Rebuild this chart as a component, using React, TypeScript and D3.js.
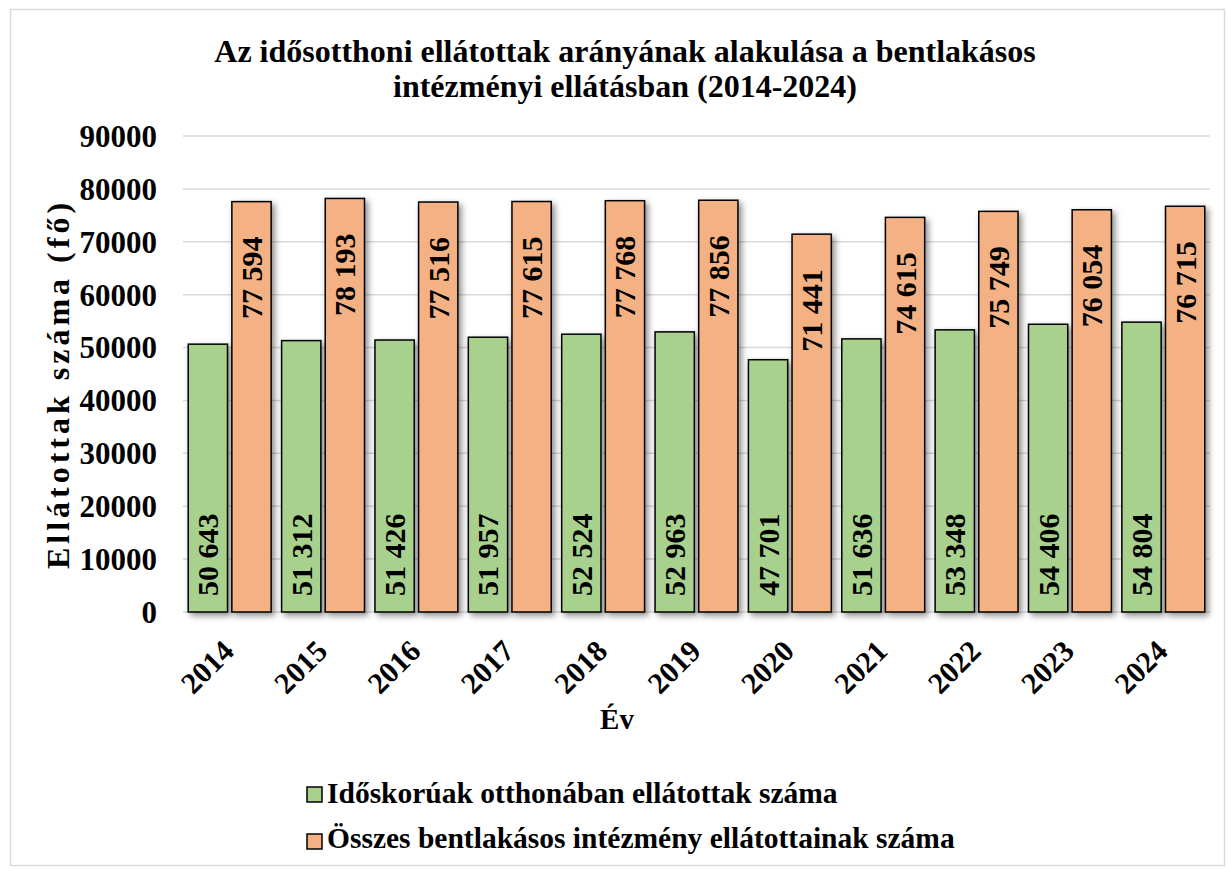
import React from "react";
import * as d3 from "d3";

const years = ["2014","2015","2016","2017","2018","2019","2020","2021","2022","2023","2024"];
const elderlyHome = [50643,51312,51426,51957,52524,52963,47701,51636,53348,54406,54804];
const allResidential = [77594,78193,77516,77615,77768,77856,71441,74615,75749,76054,76715];
const yTicks = [0,10000,20000,30000,40000,50000,60000,70000,80000,90000];
const seriesNames = ["Időskorúak otthonában ellátottak száma","Összes bentlakásos intézmény ellátottainak száma"];
const colors = ["#A9D18E","#F4B183"];
const titleLines = ["Az idősotthoni ellátottak arányának alakulása a bentlakásos","intézményi ellátásban (2014-2024)"];

const FONT = "'Liberation Serif','Times New Roman',serif";

export default function App() {
  const W = 1228, H = 869;
  const x = d3.scaleBand().domain(years).range([183, 1210]).paddingInner(0).paddingOuter(0);
  const inner = d3.scaleBand().domain(["a","b"]).range([0, x.bandwidth()]).paddingInner(0.1).paddingOuter(0.12);
  const y = d3.scaleLinear().domain([0, 90000]).range([612, 136]);
  const fmt = (v: number) => {
    const s = String(v);
    return s.slice(0, s.length - 3) + " " + s.slice(-3);
  };
  return (
    <svg width={W} height={H} style={{ position: "absolute", left: 0, top: 0, background: "#fff" }} fontFamily={FONT}>
      <defs>
        <filter id="sh" x="-30%" y="-10%" width="160%" height="130%">
          <feDropShadow dx="3" dy="3" stdDeviation="3" floodColor="#000" floodOpacity="0.45" />
        </filter>
      </defs>
      <rect x={0} y={0} width={W} height={H} fill="#fff" />
      <rect x={10.5} y={9.5} width={1214} height={856} fill="none" stroke="#d9d9d9" strokeWidth={1.5} />
      {titleLines.map((t, i) => (
        <text key={i} x={625} y={62 + i * 35} textAnchor="middle" fontWeight="bold" fontSize={32}>{t}</text>
      ))}
      {yTicks.map(t => (
        <g key={t}>
          <line x1={183} x2={1210} y1={y(t)} y2={y(t)} stroke="#d9d9d9" strokeWidth={1.5} />
          <text x={157} y={y(t)} dy="0.35em" textAnchor="end" fontWeight="bold" fontSize={31}>{t}</text>
        </g>
      ))}
      <text transform={`translate(69,384) rotate(-90)`} textAnchor="middle" fontWeight="bold" fontSize={32} letterSpacing={4}>Ellátottak száma (fő)</text>
      {years.map((yr, i) => {
        const gx = x(yr)!;
        const gxA = gx + inner("a")!;
        const gxB = gx + inner("b")!;
        const bw = inner.bandwidth();
        return (
          <g key={yr}>
            <rect x={gxA} y={y(elderlyHome[i])} width={bw} height={y(0) - y(elderlyHome[i])} fill={colors[0]} stroke="#000" strokeWidth={1.5} filter="url(#sh)" />
            <rect x={gxB} y={y(allResidential[i])} width={bw} height={y(0) - y(allResidential[i])} fill={colors[1]} stroke="#000" strokeWidth={1.5} filter="url(#sh)" />
          </g>
        );
      })}
      {years.map((yr, i) => {
        const gx = x(yr)!;
        const cA = gx + inner("a")! + inner.bandwidth() / 2;
        const cB = gx + inner("b")! + inner.bandwidth() / 2;
        return (
          <g key={"l" + yr} fontWeight="bold" fontSize={30}>
            <text transform={`translate(${cA},${596}) rotate(-90)`} dy="0.35em" textAnchor="start">{fmt(elderlyHome[i])}</text>
            <text transform={`translate(${cB},${y(allResidential[i]) + 35}) rotate(-90)`} dy="0.35em" textAnchor="end">{fmt(allResidential[i])}</text>
            <text transform={`translate(${gx + x.bandwidth() / 2 + 6},${653}) rotate(-45)`} textAnchor="end" fontSize={30}>{yr}</text>
          </g>
        );
      })}
      <text x={617} y={729} textAnchor="middle" fontWeight="bold" fontSize={29}>Év</text>
      {seriesNames.map((n, i) => (
        <g key={n}>
          <rect x={307} y={787 + i * 47} width={15} height={15} fill={colors[i]} stroke="#000" strokeWidth={1.5} />
          <text x={327} y={803 + i * 45} fontWeight="bold" fontSize={29.5}>{n}</text>
        </g>
      ))}
    </svg>
  );
}
